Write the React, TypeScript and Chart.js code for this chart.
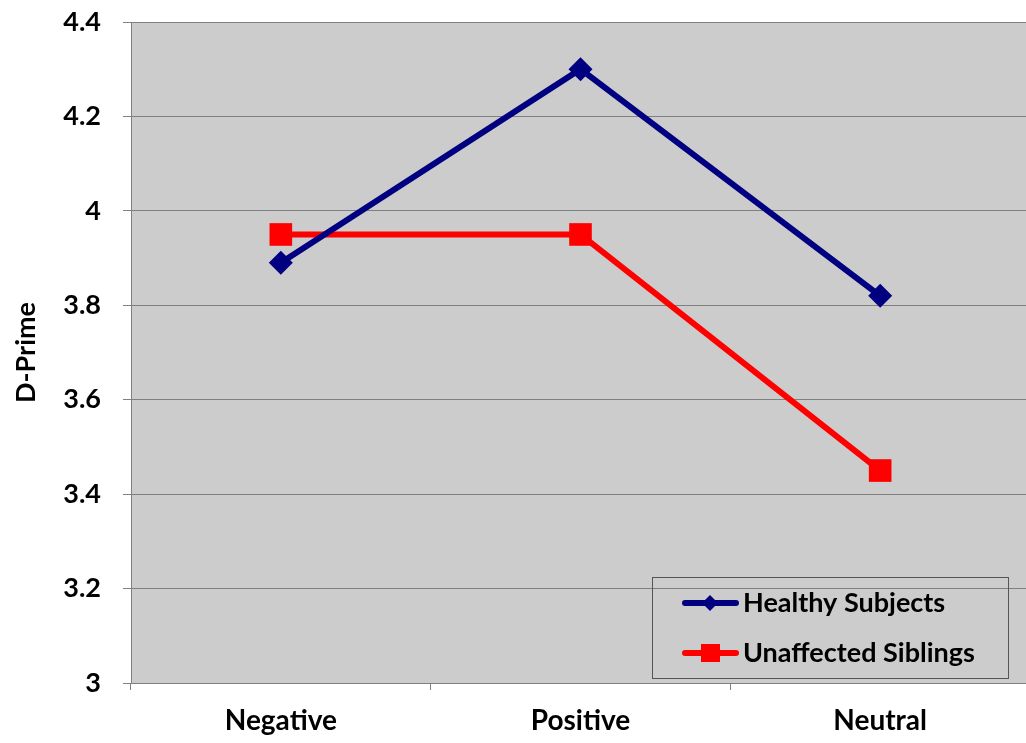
import React, { useEffect, useRef } from "react";
import { Chart, registerables } from "chart.js";

Chart.register(...registerables);

const categories = ["Negative", "Positive", "Neutral"];
const healthySubjects = [3.89, 4.3, 3.82];
const unaffectedSiblings = [3.95, 3.95, 3.45];
const seriesLabels = ["Healthy Subjects", "Unaffected Siblings"];
const yTitle = "D-Prime";
const yMin = 3;
const yMax = 4.4;
const yStep = 0.2;

const FONT = "Lato, 'Open Sans', 'Liberation Sans', sans-serif";
const W = "bold";

const bgPlugin = {
  id: "plotBg",
  beforeDraw(chart: any) {
    const { ctx, chartArea } = chart;
    ctx.save();
    ctx.fillStyle = "#CCCCCC";
    ctx.fillRect(chartArea.left, chartArea.top, chartArea.right - chartArea.left, chartArea.bottom - chartArea.top);
    ctx.restore();
  },
};

const legendPlugin = {
  id: "boxLegend",
  afterDraw(chart: any) {
    const { ctx } = chart;
    const x0 = 652, y0 = 577, w = 356, h = 101;
    ctx.save();
    ctx.strokeStyle = "#555555";
    ctx.lineWidth = 1;
    ctx.strokeRect(x0 + 0.5, y0 + 0.5, w, h);
    const rows = [603, 653];
    chart.data.datasets.forEach((ds: any, i: number) => {
      const y = rows[i];
      ctx.strokeStyle = ds.borderColor;
      ctx.lineWidth = 6;
      ctx.lineCap = "round";
      ctx.beginPath();
      ctx.moveTo(685, y);
      ctx.lineTo(736, y);
      ctx.stroke();
      ctx.fillStyle = ds.borderColor;
      if (ds.pointStyle === "rectRot") {
        const r = 8;
        ctx.beginPath();
        ctx.moveTo(710, y - r);
        ctx.lineTo(710 + r, y);
        ctx.lineTo(710, y + r);
        ctx.lineTo(710 - r, y);
        ctx.closePath();
        ctx.fill();
      } else {
        ctx.fillRect(701, y - 9, 19, 18);
      }
      ctx.fillStyle = "#000000";
      ctx.font = `${W} 27px ${FONT}`;
      ctx.textAlign = "left";
      ctx.textBaseline = "middle";
      ctx.fillText(ds.label, 743, y);
    });
    ctx.restore();
  },
};

export default function App() {
  const ref = useRef<HTMLCanvasElement | null>(null);
  useEffect(() => {
    if (!ref.current) return;
    const chart = new Chart(ref.current, {
      type: "line",
      data: {
        labels: categories,
        datasets: [
          {
            label: seriesLabels[0],
            data: healthySubjects,
            borderColor: "#000080",
            backgroundColor: "#000080",
            borderWidth: 6,
            pointStyle: "rectRot",
            pointRadius: 12,
            pointBorderWidth: 0,
            pointBackgroundColor: "#000080",
            tension: 0,
          },
          {
            label: seriesLabels[1],
            data: unaffectedSiblings,
            borderColor: "#FF0000",
            backgroundColor: "#FF0000",
            borderWidth: 6,
            pointStyle: "rect",
            pointRadius: 16,
            pointBorderWidth: 0,
            pointBackgroundColor: "#FF0000",
            tension: 0,
          },
        ],
      },
      options: {
        responsive: false,
        animation: false,
        layout: { padding: { top: 22, right: 14, left: 0, bottom: 0 } },
        plugins: { legend: { display: false }, tooltip: { enabled: false } },
        scales: {
          x: {
            offset: true,
            grid: {
              offset: true,
              drawOnChartArea: false,
              drawTicks: true,
              tickLength: 7,
              color: "#808080",
            },
            border: { display: true, color: "#808080", width: 1 },
            ticks: {
              color: "#000000",
              padding: 14,
              font: { family: FONT, size: 28, weight: W },
              maxRotation: 0,
            },
            afterFit: (s: any) => {
              s.height = 60;
              s.paddingLeft = 0;
              s.paddingRight = 0;
            },
          },
          y: {
            min: yMin,
            max: yMax,
            grid: {
              color: "#808080",
              lineWidth: 1,
              drawTicks: true,
              tickLength: 8,
              tickColor: "#808080",
            },
            border: { display: true, color: "#808080", width: 1 },
            ticks: {
              stepSize: yStep,
              color: "#000000",
              padding: 22,
              font: { family: FONT, size: 27, weight: W },
              callback: (v: any) => String(Math.round(Number(v) * 10) / 10),
            },
            title: {
              display: true,
              text: yTitle,
              color: "#000000",
              font: { family: FONT, size: 27, weight: W },
              padding: { top: 10, bottom: 0 },
            },
            afterFit: (s: any) => {
              s.width = 131;
              s.paddingTop = 0;
              s.paddingBottom = 0;
            },
          },
        },
      },
      plugins: [bgPlugin, legendPlugin],
    });
    return () => chart.destroy();
  }, []);
  return (
    <div style={{ position: "absolute", left: 0, top: 0, width: 1026, height: 743, overflow: "hidden" }}>
      <canvas ref={ref} width={1046} height={743} style={{ display: "block" }} />
    </div>
  );
}
